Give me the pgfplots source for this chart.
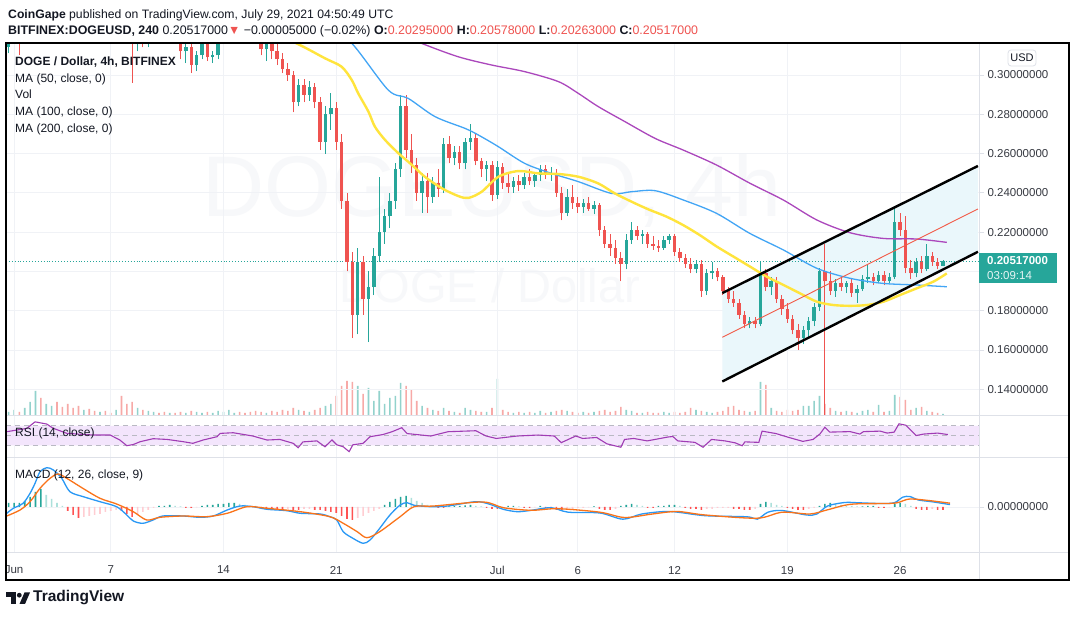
\documentclass[border=0pt]{standalone}
\usepackage{pgfplots}
\pgfplotsset{compat=1.18}
\usepackage{pgfplotstable}
\usepackage{fontspec}
\setmainfont{Liberation Sans}

\definecolor{upc}{RGB}{38,166,154}
\definecolor{dnc}{RGB}{239,83,80}
\definecolor{volup}{RGB}{146,210,204}
\definecolor{voldn}{RGB}{247,169,167}
\definecolor{histup2}{RGB}{172,224,219}
\definecolor{histdn}{RGB}{255,82,82}
\definecolor{histdn2}{RGB}{255,205,210}
\definecolor{maF}{RGB}{255,228,60}
\definecolor{maH}{RGB}{66,165,245}
\definecolor{maT}{RGB}{171,71,188}
\definecolor{rsic}{RGB}{160,60,180}
\definecolor{rsiband}{RGB}{243,229,252}
\definecolor{rsidash}{RGB}{185,185,195}
\definecolor{macdc}{RGB}{41,152,245}
\definecolor{sigc}{RGB}{250,115,25}
\definecolor{gridc}{RGB}{240,242,246}
\definecolor{divc}{RGB}{222,225,232}
\definecolor{chanfill}{RGB}{234,247,251}
\definecolor{midc}{RGB}{242,90,70}
\definecolor{tvtext}{RGB}{19,23,34}
\definecolor{scalec}{RGB}{55,58,66}
\definecolor{wmc}{RGB}{247,248,250}

% 8h candles, k = index of 8h period from 1 Jun 00:00
\pgfplotstableread[row sep=\\]{
k o h l c v\\
-1 0.314 0.326 0.311 0.322 4\\ 0 0.322 0.335 0.318 0.331 6\\ 1 0.331 0.336 0.310 0.326 4\\
2 0.326 0.342 0.322 0.340 8\\ 3 0.340 0.352 0.336 0.350 14\\ 4 0.350 0.375 0.346 0.372 25\\
5 0.372 0.385 0.365 0.366 18\\ 6 0.366 0.420 0.362 0.415 12\\ 7 0.415 0.435 0.405 0.425 10\\
8 0.425 0.438 0.410 0.418 14\\ 9 0.418 0.425 0.395 0.400 9\\ 10 0.400 0.410 0.385 0.392 12\\
11 0.392 0.400 0.375 0.380 8\\ 12 0.380 0.385 0.355 0.362 10\\ 13 0.362 0.375 0.350 0.370 6\\
14 0.370 0.378 0.355 0.360 7\\ 15 0.360 0.365 0.345 0.350 5\\ 16 0.350 0.362 0.342 0.358 4\\
17 0.358 0.365 0.348 0.352 5\\ 18 0.352 0.360 0.340 0.345 3\\ 19 0.345 0.355 0.338 0.350 6\\
20 0.350 0.352 0.330 0.335 20\\ 21 0.335 0.340 0.322 0.325 12\\ 22 0.325 0.330 0.296 0.318 14\\
23 0.318 0.326 0.312 0.322 8\\ 24 0.322 0.330 0.314 0.316 6\\ 25 0.316 0.328 0.314 0.324 5\\
26 0.324 0.335 0.320 0.330 4\\ 27 0.330 0.338 0.322 0.326 3\\ 28 0.326 0.334 0.318 0.322 4\\
29 0.322 0.330 0.317 0.325 3\\ 30 0.325 0.330 0.316 0.318 3\\ 31 0.318 0.320 0.308 0.312 4\\
32 0.312 0.318 0.306 0.314 3\\ 33 0.314 0.316 0.301 0.305 5\\ 34 0.305 0.312 0.302 0.310 4\\
35 0.310 0.318 0.308 0.316 3\\ 36 0.316 0.318 0.307 0.309 4\\ 37 0.309 0.312 0.306 0.310 3\\
38 0.310 0.322 0.308 0.320 5\\ 39 0.320 0.332 0.318 0.328 4\\ 40 0.328 0.335 0.322 0.330 6\\
41 0.330 0.338 0.325 0.334 3\\ 42 0.334 0.340 0.328 0.332 4\\ 43 0.332 0.338 0.326 0.330 3\\
44 0.330 0.334 0.320 0.324 4\\ 45 0.324 0.328 0.316 0.320 5\\ 46 0.320 0.324 0.310 0.313 4\\
47 0.313 0.318 0.307 0.316 3\\ 48 0.316 0.320 0.308 0.312 5\\ 49 0.312 0.316 0.305 0.308 4\\
50 0.308 0.311 0.301 0.303 6\\ 51 0.303 0.306 0.297 0.300 5\\ 52 0.300 0.302 0.281 0.286 8\\
53 0.286 0.298 0.284 0.295 6\\ 54 0.295 0.298 0.286 0.290 5\\ 55 0.290 0.297 0.287 0.294 4\\
56 0.294 0.296 0.283 0.286 6\\ 57 0.286 0.289 0.262 0.266 8\\ 58 0.266 0.284 0.260 0.280 10\\
59 0.280 0.291 0.272 0.283 12\\ 60 0.283 0.286 0.262 0.266 20\\ 61 0.266 0.270 0.232 0.236 30\\
62 0.236 0.240 0.200 0.205 35\\ 63 0.205 0.210 0.166 0.178 34\\ 64 0.178 0.212 0.168 0.205 30\\
65 0.205 0.208 0.178 0.186 22\\ 66 0.186 0.200 0.164 0.192 28\\ 67 0.192 0.212 0.188 0.208 15\\
68 0.208 0.248 0.205 0.220 25\\ 69 0.220 0.232 0.214 0.228 12\\ 70 0.228 0.240 0.222 0.236 18\\
71 0.236 0.255 0.232 0.252 20\\ 72 0.252 0.290 0.248 0.284 33\\ 73 0.284 0.290 0.258 0.262 30\\
74 0.262 0.270 0.250 0.254 26\\ 75 0.254 0.258 0.236 0.240 15\\ 76 0.240 0.250 0.230 0.246 10\\
77 0.246 0.250 0.230 0.238 8\\ 78 0.238 0.248 0.235 0.245 6\\ 79 0.245 0.252 0.238 0.242 5\\
80 0.242 0.268 0.240 0.265 8\\ 81 0.265 0.269 0.255 0.258 5\\ 82 0.258 0.264 0.254 0.261 4\\
83 0.261 0.264 0.252 0.255 3\\ 84 0.255 0.268 0.252 0.266 8\\ 85 0.266 0.275 0.262 0.268 6\\
86 0.268 0.270 0.254 0.256 5\\ 87 0.256 0.258 0.248 0.252 4\\ 88 0.252 0.256 0.246 0.254 4\\
89 0.254 0.256 0.236 0.239 8\\ 90 0.239 0.256 0.237 0.253 37\\ 91 0.253 0.255 0.242 0.245 6\\
92 0.245 0.250 0.240 0.243 4\\ 93 0.243 0.248 0.240 0.246 3\\ 94 0.246 0.249 0.241 0.244 4\\
95 0.244 0.250 0.242 0.248 3\\ 96 0.248 0.252 0.244 0.246 4\\ 97 0.246 0.250 0.243 0.249 3\\
98 0.249 0.254 0.246 0.252 5\\ 99 0.252 0.254 0.247 0.249 3\\ 100 0.249 0.253 0.246 0.250 4\\
101 0.250 0.252 0.238 0.240 5\\ 102 0.240 0.243 0.226 0.230 6\\ 103 0.230 0.242 0.228 0.238 5\\
104 0.238 0.244 0.232 0.235 4\\ 105 0.235 0.238 0.230 0.233 3\\ 106 0.233 0.237 0.230 0.235 4\\
107 0.235 0.238 0.231 0.232 3\\ 108 0.232 0.236 0.229 0.234 4\\ 109 0.234 0.235 0.218 0.221 5\\
110 0.221 0.223 0.212 0.214 6\\ 111 0.214 0.219 0.208 0.212 4\\ 112 0.212 0.216 0.204 0.207 5\\
113 0.207 0.210 0.195 0.204 9\\ 114 0.204 0.219 0.201 0.216 6\\ 115 0.216 0.225 0.214 0.221 5\\
116 0.221 0.223 0.216 0.218 3\\ 117 0.218 0.221 0.214 0.219 3\\ 118 0.219 0.220 0.212 0.214 4\\
119 0.214 0.218 0.211 0.213 3\\ 120 0.213 0.216 0.210 0.212 3\\ 121 0.212 0.218 0.211 0.216 4\\
122 0.216 0.219 0.214 0.218 3\\ 123 0.218 0.219 0.208 0.210 4\\ 124 0.210 0.212 0.205 0.207 3\\
125 0.207 0.209 0.202 0.204 4\\ 126 0.204 0.207 0.199 0.201 8\\ 127 0.201 0.206 0.199 0.204 6\\
128 0.204 0.206 0.187 0.190 5\\ 129 0.190 0.201 0.188 0.199 4\\ 130 0.199 0.205 0.196 0.200 3\\
131 0.200 0.202 0.195 0.197 4\\ 132 0.197 0.198 0.188 0.190 5\\ 133 0.190 0.192 0.184 0.186 9\\
134 0.186 0.190 0.182 0.184 10\\ 135 0.184 0.186 0.176 0.178 6\\ 136 0.178 0.180 0.171 0.173 5\\
137 0.173 0.177 0.171 0.175 4\\ 138 0.175 0.177 0.171 0.173 5\\ 139 0.173 0.205 0.172 0.199 34\\
140 0.199 0.201 0.190 0.192 31\\ 141 0.192 0.197 0.188 0.195 8\\ 142 0.195 0.197 0.184 0.186 5\\
143 0.186 0.188 0.178 0.181 4\\ 144 0.181 0.184 0.174 0.176 6\\ 145 0.176 0.178 0.168 0.170 5\\
146 0.170 0.173 0.160 0.166 6\\ 147 0.166 0.172 0.163 0.170 10\\ 148 0.170 0.177 0.166 0.175 10\\
149 0.175 0.184 0.172 0.182 15\\ 150 0.182 0.202 0.180 0.200 20\\ 151 0.200 0.214 0.100 0.195 12\\
152 0.195 0.200 0.188 0.190 8\\ 153 0.190 0.196 0.187 0.194 5\\ 154 0.194 0.197 0.190 0.192 4\\
155 0.192 0.195 0.189 0.194 5\\ 156 0.194 0.196 0.187 0.189 4\\ 157 0.189 0.193 0.184 0.191 3\\
158 0.191 0.198 0.190 0.196 5\\ 159 0.196 0.204 0.194 0.197 6\\ 160 0.197 0.199 0.193 0.195 4\\
161 0.195 0.200 0.194 0.198 11\\ 162 0.198 0.200 0.193 0.195 4\\ 163 0.195 0.199 0.194 0.197 5\\
164 0.197 0.233 0.196 0.225 21\\ 165 0.225 0.230 0.218 0.221 19\\ 166 0.221 0.228 0.199 0.202 16\\
167 0.202 0.206 0.196 0.199 6\\ 168 0.199 0.207 0.197 0.205 8\\ 169 0.205 0.208 0.199 0.201 9\\
170 0.201 0.214 0.200 0.208 5\\ 171 0.208 0.210 0.203 0.205 4\\ 172 0.205 0.207 0.201 0.203 3\\
173 0.203 0.206 0.2026 0.2052 2\\
}\candles

% MACD histogram, g: 1 rising up, 2 falling up, 3 falling down, 4 rising down
\pgfplotstableread[row sep=\\]{
k m g\\
-1 4 1\\ 0 4 1\\ 1 4 1\\ 2 6 1\\ 3 10 1\\ 4 15 1\\ 5 18 1\\ 6 12 2\\ 7 8 2\\ 8 4 2\\ 9 1 2\\
10 -4 3\\ 11 -8 3\\ 12 -11 3\\ 13 -10 4\\ 14 -9 4\\ 15 -8 4\\ 16 -7 4\\ 17 -5 4\\ 18 -4 4\\ 19 -3 4\\
20 -4 3\\ 21 -7 3\\ 22 -10 3\\ 23 -8 4\\ 24 -5 4\\ 25 -3 4\\ 26 -1 4\\ 27 1 1\\ 28 1 1\\ 29 2 1\\
30 1 2\\ 31 0.5 2\\ 32 -1 3\\ 33 -1 3\\ 34 -0.5 4\\ 35 1 1\\ 36 2 1\\ 37 2 1\\ 38 3 1\\ 39 3 1\\
40 4 1\\ 41 4 1\\ 42 3 2\\ 43 2 2\\ 44 1 2\\ 45 1 2\\ 46 -1 3\\ 47 -2 3\\ 48 -2 3\\ 49 -2 3\\
50 -3 3\\ 51 -2 4\\ 52 -3 3\\ 53 -3 3\\ 54 -2 4\\ 55 -2 4\\ 56 -3 3\\ 57 -3 3\\ 58 -4 3\\ 59 -5 3\\
60 -6 3\\ 61 -9 3\\ 62 -12 3\\ 63 -13 3\\ 64 -11 4\\ 65 -9 4\\ 66 -6 4\\ 67 -4 4\\ 68 -2 4\\ 69 2 1\\
70 5 1\\ 71 8 1\\ 72 10 1\\ 73 11 1\\ 74 9 2\\ 75 6 2\\ 76 4 2\\ 77 2 2\\ 78 1 2\\ 79 -1 3\\
80 -1 3\\ 81 0.5 1\\ 82 1 1\\ 83 1 1\\ 84 1.5 1\\ 85 2 1\\ 86 1 2\\ 87 0.5 2\\ 88 -1 3\\ 89 -2 3\\
90 -2 3\\ 91 -1 4\\ 92 1 1\\ 93 1 1\\ 94 0.5 2\\ 95 -1 3\\ 96 -1 3\\ 97 -0.5 4\\ 98 1 1\\ 99 -1 3\\
100 -2 3\\ 101 -3 3\\ 102 -3 3\\ 103 -2 4\\ 104 -2 4\\ 105 -1 4\\ 106 -1 4\\ 107 -0.5 4\\ 108 0.5 1\\ 109 -2 3\\
110 -3 3\\ 111 -3 3\\ 112 -2 4\\ 113 1 1\\ 114 2 1\\ 115 3 1\\ 116 2 2\\ 117 1 2\\ 118 -1 3\\ 119 -1 3\\
120 1 1\\ 121 1 1\\ 122 2 1\\ 123 2 1\\ 124 1 2\\ 125 -1 3\\ 126 -2 3\\ 127 -2 3\\ 128 -3 3\\ 129 -2 4\\
130 -2 4\\ 131 -1 4\\ 132 -1 4\\ 133 -1 4\\ 134 -2 3\\ 135 -2 3\\ 136 -3 3\\ 137 -3 3\\ 138 -2 4\\ 139 3 1\\
140 5 1\\ 141 4 2\\ 142 2 2\\ 143 1 2\\ 144 -1 3\\ 145 -2 3\\ 146 -3 3\\ 147 -3 3\\ 148 -2 4\\ 149 -1 4\\
150 1 1\\ 151 3 1\\ 152 4 1\\ 153 3 2\\ 154 2 2\\ 155 1 2\\ 156 1 2\\ 157 0.5 2\\ 158 0.5 1\\ 159 1 1\\
160 1 1\\ 161 -1 3\\ 162 -1 3\\ 163 -0.5 4\\ 164 3 1\\ 165 4 1\\ 166 3 2\\ 167 1 2\\ 168 -2 3\\ 169 -3 3\\
170 -3 3\\ 171 -2 4\\ 172 -3 3\\ 173 -3 3\\
}\hist

\pgfplotsset{
  tvpanel/.style={scale only axis, width=973pt, anchor=south west,
    xmin=-1.5, xmax=179.7, axis line style={draw=none},
    xtick={0,18,39,60,90,105,123,144,165}, xticklabel={\empty},
    xmajorgrids, grid style={draw=gridc, line width=0.9pt},
    xtick style={draw=none}, tick align=outside, major tick length=5pt,
    ytick pos=right, yticklabel pos=right, scaled y ticks=false,
    ytick style={draw=divc, line width=0.9pt},
    yticklabel style={font=\fontsize{11.5}{13}\selectfont, text=scalec,
      /pgf/number format/.cd, fixed, fixed zerofill, precision=8, assume math mode=true}},
  wick/.style={draw=none, mark=none, error bars/y dir=plus, error bars/y explicit,
    error bars/error mark=none, error bars/error bar style={draw=#1, line width=0.9pt}},
  body/.style={draw=none, mark=none, error bars/y dir=plus, error bars/y explicit,
    error bars/error mark=none, error bars/error bar style={draw=#1, line width=3.4pt}},
  vbar/.style={ybar, bar width=1.6pt, bar shift=0pt, draw=none, fill=#1},
}

\begin{document}
\begin{tikzpicture}[x=1pt, y=1pt]
\useasboundingbox (0,0) rectangle (1073,617);
\fill[white] (0,0) rectangle (1073,617);

% watermark
\node[anchor=base, text=wmc, font=\fontsize{86}{90}\selectfont] at (492,400) {DOGEUSD, 4h};
\node[anchor=base, text=wmc, font=\fontsize{47}{50}\selectfont] at (490,314) {DOGE / Dollar};

% volume
\begin{axis}[at={(6pt,201pt)}, anchor=south west, scale only axis, width=973pt, height=373pt,
  xmin=-1.5, xmax=179.7, ymin=0, ymax=373, hide axis]
\addplot[vbar=volup, restrict expr to domain={\thisrow{c}-\thisrow{o}}{0:1}] table[x=k, y=v] {\candles};
\addplot[vbar=voldn, restrict expr to domain={\thisrow{c}-\thisrow{o}}{-1:-0.00001}] table[x=k, y=v] {\candles};
\end{axis}

% price
\begin{axis}[tvpanel, at={(6pt,201pt)}, height=373pt, ymin=0.12642, ymax=0.31629,
  ymajorgrids, ytick={0.14,0.16,0.18,0.22,0.24,0.26,0.28,0.30},
  extra y ticks={0.20}, extra y tick labels={\empty}, extra y tick style={grid=major}]
\addplot[fill=chanfill, draw=none] coordinates {(131.9,0.1440) (179.5,0.2100) (179.5,0.2537) (131.9,0.1890) (131.9,0.1440)};
\addplot[draw=upc, dotted, line width=0.9pt] coordinates {(-1.5,0.20517) (179.7,0.20517)};
\addplot[wick=upc, restrict expr to domain={\thisrow{c}-\thisrow{o}}{0:1}]
  table[x=k, y=l, y error expr=\thisrow{h}-\thisrow{l}] {\candles};
\addplot[wick=dnc, restrict expr to domain={\thisrow{c}-\thisrow{o}}{-1:-0.00001}]
  table[x=k, y=l, y error expr=\thisrow{h}-\thisrow{l}] {\candles};
\addplot[body=upc, restrict expr to domain={\thisrow{c}-\thisrow{o}}{0:1}]
  table[x=k, y=o, y error expr=\thisrow{c}-\thisrow{o}] {\candles};
\addplot[body=dnc, restrict expr to domain={\thisrow{c}-\thisrow{o}}{-1:-0.00001}]
  table[x=k, y=c, y error expr=\thisrow{o}-\thisrow{c}] {\candles};
% MA 200
\addplot[draw=maT, line width=1.3pt, smooth] coordinates {(70,0.323) (75.9,0.3161) (82.7,0.3093) (88.9,0.3051) (95.1,0.3017) (101.4,0.2966) (105.1,0.2906) (108.8,0.2839) (113.8,0.2762) (119.4,0.2677) (124.6,0.2618) (130.8,0.2542) (137.1,0.2448) (143.3,0.2363) (149.5,0.2262) (155.7,0.2197) (161.9,0.2168) (168.1,0.2165) (173.7,0.2148)};
% MA 100
\addplot[draw=maH, line width=1.3pt, smooth] coordinates {(58,0.325) (62.9,0.3161) (69.7,0.2923) (73.4,0.2881) (78.4,0.2788) (84.0,0.2728) (86.5,0.2694) (90.2,0.2635) (95.1,0.2550) (100.1,0.2499) (105.1,0.2457) (111.3,0.2397) (115.0,0.2406) (119.4,0.2411) (124.7,0.2363) (130.8,0.2296) (137.0,0.2194) (143.3,0.2109) (149.5,0.2016) (155.7,0.1965) (161.9,0.1939) (168.1,0.1931) (173.7,0.1922)};
% MA 50
\addplot[draw=maF, line width=2.4pt, smooth] coordinates {(45,0.325) (52.6,0.3161) (57.9,0.3085) (61.0,0.3042) (62.9,0.2974) (64.1,0.2906) (66.0,0.2813) (67.2,0.2737) (69.1,0.2669) (71.6,0.2601) (74.1,0.2542) (76.5,0.2482) (79.7,0.2423) (82.7,0.2384) (84.6,0.2374) (87.1,0.2406) (90.2,0.2482) (93.9,0.2511) (97.7,0.2499) (101.4,0.2496) (105.1,0.2482) (108.8,0.2448) (111.9,0.2397) (115.7,0.2346) (118.4,0.2313) (121.5,0.2279) (124.6,0.2236) (127.7,0.2185) (130.9,0.2126) (134,0.2075) (137.1,0.2024) (140.2,0.1973) (143.3,0.1931) (146.4,0.1888) (149.5,0.1846) (152.6,0.1829) (155.7,0.1825) (158.8,0.1829) (161.9,0.1846) (165,0.1880) (168.1,0.1914) (171.2,0.1948) (173.7,0.1990)};
% channel
\addplot[draw=midc, line width=0.9pt] coordinates {(131.9,0.1665) (179.5,0.2318)};
\addplot[draw=black, line width=2.4pt] coordinates {(131.9,0.1890) (179.5,0.2537)};
\addplot[draw=black, line width=2.4pt] coordinates {(131.9,0.1440) (179.5,0.2100)};
\end{axis}

% RSI
\begin{axis}[tvpanel, at={(6pt,159pt)}, height=42pt, ymin=4, ymax=90, ytick=\empty]
\addplot[fill=rsiband, draw=none] coordinates {(-1.5,30) (179.7,30) (179.7,70) (-1.5,70) (-1.5,30)};
\addplot[draw=rsidash, dash pattern=on 5pt off 4pt, line width=0.8pt] coordinates {(-1.5,70) (179.7,70)};
\addplot[draw=rsidash, dash pattern=on 5pt off 4pt, line width=0.8pt] coordinates {(-1.5,50) (179.7,50)};
\addplot[draw=rsidash, dash pattern=on 5pt off 4pt, line width=0.8pt] coordinates {(-1.5,30) (179.7,30)};
\addplot[draw=rsic, line width=1.1pt] coordinates {(-1.36,57.8) (2.36,64.6) (3.91,78) (6.09,73.5) (7.26,65) (9.81,54.5) (14.7,51) (17.9,51) (19.7,40.8) (21.0,29.2) (22.2,31.6) (23.5,37.4) (25.9,43.5) (28.5,42) (31.5,37.4) (33.3,34) (35.2,40.8) (37.8,47.6) (38.4,54.4) (40.8,55.7) (44.5,48.9) (47.1,40.8) (49.5,42) (52.0,34) (52.9,25) (53.8,37) (56.4,39) (57.9,27) (59.2,41) (60.1,31) (61.3,27) (62.4,17) (63.1,31) (65.0,34) (66.3,47.6) (68.7,52) (70.4,57.8) (72.2,66) (73.2,54) (77.6,49) (80.8,57.8) (86.0,59.8) (87.9,49) (89.8,44) (93.7,49) (97.6,51) (100.6,49) (101.9,35.4) (104.6,49) (105.9,44) (108.5,46) (110.4,33) (113.0,26) (113.7,42) (115.4,44) (117.9,39) (121.8,47) (122.7,48) (123.6,39) (126.8,36) (128.3,26) (129.9,42) (132.4,39) (134.3,35) (135.6,29) (136.1,37) (138.7,36) (139.3,59) (141.9,54) (144.3,46) (146.9,38) (148.8,42) (150.1,53.5) (151.0,67) (151.9,57) (155.7,58) (157.5,53) (158.2,58) (161.3,59) (162.6,55) (163.9,57) (164.8,74) (166.1,71) (168.0,50) (169.4,53) (172.0,55) (173.9,52)};
\end{axis}

% MACD
\begin{axis}[tvpanel, at={(6pt,64pt)}, height=95pt, ymin=-46, ymax=49, ymajorgrids, ytick={0},
  xticklabels={Jun,7,14,21,Jul,6,12,19,26},
  xticklabel style={font=\fontsize{11.5}{13}\selectfont, text=scalec, yshift=-4.5pt}]
\addplot[vbar=upc, restrict expr to domain={\thisrow{g}}{0.5:1.5}] table[x=k, y=m] {\hist};
\addplot[vbar=histup2, restrict expr to domain={\thisrow{g}}{1.5:2.5}] table[x=k, y=m] {\hist};
\addplot[vbar=histdn, restrict expr to domain={\thisrow{g}}{2.5:3.5}] table[x=k, y=m] {\hist};
\addplot[vbar=histdn2, restrict expr to domain={\thisrow{g}}{3.5:4.5}] table[x=k, y=m] {\hist};
\addplot[draw=macdc, line width=1.3pt, smooth] coordinates {(-1.36,-6.3) (-0.13,-1.3) (1.68,3.7) (2.98,13.7) (3.91,23.7) (4.84,35.3) (6.09,39.3) (7.32,37) (8.88,28.7) (10.4,15.3) (12.9,10.3) (16.0,5.3) (19.1,0.3) (21.0,-8) (22.2,-14) (24.0,-16.3) (25.9,-13) (27.7,-9) (31.5,-9) (34.6,-10.3) (37.1,-9) (39.7,-3) (42.1,1) (44.5,0.3) (47.1,-2.3) (50.8,-3.7) (53.3,-6.3) (57.0,-7) (58.8,-9.7) (60.1,-13) (61.3,-24.7) (63.1,-31.3) (65.0,-36.3) (66.3,-33) (68.1,-21.3) (70.0,-8) (71.9,2) (73.2,4.3) (74.5,1.7) (77.6,0.3) (80.8,1) (86.0,5.3) (88.6,2.7) (91.1,-2.3) (93.7,-4.7) (96.1,-3.5) (100.0,-0.7) (103.2,-5.2) (109.1,-6) (113.4,-12.2) (116.9,-7) (122.1,-4.5) (128.7,-8.7) (136.5,-9.8) (138.4,-12.2) (140.4,-5.2) (143.0,-3.5) (147.6,-8) (149.5,-7) (151.5,1) (154.7,4.5) (157.3,4.2) (161.3,3.5) (163.9,4.2) (165.5,9.8) (166.8,10.5) (168.4,7) (171.0,5.2) (174.3,2.4)};
\addplot[draw=sigc, line width=1.3pt, smooth] coordinates {(-1.36,-9) (1.12,-3) (2.98,5.3) (4.84,18.7) (6.7,28.7) (8.2,33) (9.81,28.7) (12.8,18.7) (16.0,8.7) (19.1,3) (22.2,-4.7) (24.7,-13) (27.2,-10.3) (31.5,-9) (35.9,-9.7) (39.7,-6.3) (43.4,0.3) (47.1,-1.3) (53.3,-4.7) (58.8,-9.7) (61.3,-16.3) (63.9,-24.7) (65.7,-30.7) (68.1,-24.7) (71.9,-9.7) (74.5,0.3) (78.2,1) (87.3,5) (91.1,-0.7) (96.3,-3.3) (101.3,-1.7) (109.1,-5.2) (113.7,-10.5) (118.9,-7) (123.5,-4.5) (128.7,-8) (138.4,-11.2) (143.0,-5.2) (148.2,-7) (151.5,-2.8) (156.0,2.8) (163.9,3.8) (167.1,8) (174.3,3.8)};
\end{axis}

% frame and dividers
\draw[divc, line width=1pt] (979,37) -- (979,574);
\draw[divc, line width=1pt] (6,201) -- (1069,201);
\draw[divc, line width=1pt] (6,159) -- (1069,159);
\draw[divc, line width=1pt] (6,64) -- (1069,64);
\draw[black, line width=1.6pt] (6,37) rectangle (1069,574);

% header
\node[anchor=base west, inner sep=0, text=tvtext, font=\fontsize{12.2}{14}\selectfont] at (8,598.5)
  {\textbf{CoinGape} published on TradingView.com, July 29, 2021 04:50:49 UTC};
\node[anchor=base west, inner sep=0, text=tvtext, font=\fontsize{12.4}{14}\selectfont] at (8,582.5)
  {\textbf{BITFINEX:DOGEUSD, 240}\ 0.20517000{\color{dnc}▼}\ −0.00005000 (−0.02\%)\ \textbf{O:}{\color{dnc}0.20295000}\ \textbf{H:}{\color{dnc}0.20578000}\ \textbf{L:}{\color{dnc}0.20263000}\ \textbf{C:}{\color{dnc}0.20517000}};

% legend texts
\begin{scope}[every node/.style={anchor=base west, inner sep=0, text=tvtext, font=\fontsize{12}{14}\selectfont}]
\node at (15,551.5) {\textbf{DOGE / Dollar, 4h, BITFINEX}};
\node at (15,534.5) {MA (50, close, 0)};
\node at (15,518) {Vol};
\node at (15,501) {MA (100, close, 0)};
\node at (15,484) {MA (200, close, 0)};
\node at (15,180) {RSI (14, close)};
\node at (15,138) {MACD (12, 26, close, 9)};
\end{scope}

% last price tag
\fill[upc] (979,334) rectangle (1057,364);
\node[anchor=base west, inner sep=0, text=white, font=\bfseries\fontsize{11.5}{13}\selectfont] at (987,352) {0.20517000};
\node[anchor=base west, inner sep=0, text=white!88!upc, font=\fontsize{11.5}{13}\selectfont] at (987,337) {03:09:14};

% USD box
\draw[divc, rounded corners=3pt, line width=0.8pt] (1008,551) rectangle (1036,567);
\node[text=tvtext, font=\fontsize{11}{12}\selectfont, inner sep=0] at (1022,559) {USD};

% TradingView logo
\fill[tvtext] (6,20) rectangle (16,24.5);
\fill[tvtext] (11,13) rectangle (16,24.5);
\fill[tvtext] (19.3,21.8) circle (2.4);
\fill[tvtext] (19.5,13) -- (25,13) -- (30,24.5) -- (24.5,24.5) -- cycle;
\node[anchor=base west, inner sep=0, text=tvtext, font=\bfseries\fontsize{15.5}{17}\selectfont] at (33,15.3) {TradingView};
\end{tikzpicture}
\end{document}
